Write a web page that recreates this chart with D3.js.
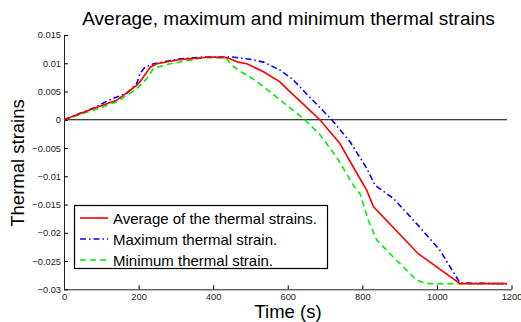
<!DOCTYPE html>
<html>
<head>
<meta charset="utf-8">
<script src="https://cdn.jsdelivr.net/npm/d3@7"></script>
<style>
  body { margin: 0; background: #fff; }
  svg { font-family: "Liberation Sans", Arial, Helvetica, sans-serif; }
</style>
</head>
<body>
<div id="chart"></div>
<script>
// data (time in s, strain)
const avgTime   = [0, 79, 141, 195, 208, 231, 249, 311, 392, 436, 445, 467, 490, 535, 579, 602, 633, 686, 740, 776, 812, 830, 950, 1062, 1188];
const avgStrain = [0, 0.0020, 0.00345, 0.0061, 0.0071, 0.0093, 0.0099, 0.01065, 0.0111, 0.0110, 0.0108, 0.0102, 0.0099, 0.0085, 0.0067, 0.0052, 0.0033, 0.0000, -0.0042, -0.0084, -0.0125, -0.0154, -0.0237, -0.0290, -0.0290];

const maxTime   = [0, 80, 123, 168, 195, 204, 217, 240, 311, 373, 450, 499, 535, 579, 611, 637, 718, 767, 812, 834, 883, 950, 1008, 1062, 1188];
const maxStrain = [0, 0.0021, 0.00355, 0.0047, 0.0064, 0.0082, 0.0093, 0.0099, 0.0108, 0.0111, 0.0111, 0.0107, 0.0102, 0.0088, 0.0073, 0.0055, 0.0000, -0.0039, -0.0086, -0.0116, -0.0139, -0.0187, -0.0231, -0.0289, -0.0290];

const minTime   = [0, 79, 141, 195, 222, 240, 284, 374, 418, 436, 450, 477, 503, 530, 646, 687, 731, 776, 794, 816, 839, 883, 946, 973, 1188];
const minStrain = [0, 0.0017, 0.00315, 0.0055, 0.0073, 0.0091, 0.0099, 0.0110, 0.0110, 0.0108, 0.0096, 0.0084, 0.0074, 0.0061, 0.0000, -0.0027, -0.0066, -0.0116, -0.0131, -0.0178, -0.0213, -0.0243, -0.0284, -0.0290, -0.0290];

const xTicks = [0, 200, 400, 600, 800, 1000, 1200];
const yTicks = [0.015, 0.01, 0.005, 0, -0.005, -0.01, -0.015, -0.02, -0.025, -0.03];
const yTickLabels = ["0.015", "0.01", "0.005", "0", "\u22120.005", "\u22120.01", "\u22120.015", "\u22120.02", "\u22120.025", "\u22120.03"];

const legendLabels = ["Average of the thermal strains.", "Maximum thermal strain.", "Minimum thermal strain."];

const W = 521, H = 322;
const marg = {top: 35, right: 9.5, bottom: 32.7, left: 64};
const wid = W - marg.left - marg.right,
  hei = H - marg.top - marg.bottom;

const svg = d3.select("#chart")
  .append("svg")
  .attr("width", W)
  .attr("height", H);

const g = svg.append("g")
  .attr("transform", `translate(${marg.left},${marg.top})`);

const xScale = d3.scaleLinear().domain([0, 1200]).range([0, wid]);
const yScale = d3.scaleLinear().domain([-0.03, 0.015]).range([hei, 0]);

// axes, matlab style: ticks pointing inwards, no box
g.append("g")
  .attr("transform", `translate(0,${hei})`)
  .call(d3.axisBottom(xScale).tickValues(xTicks).tickFormat(d3.format("d")).tickSizeInner(-4).tickSizeOuter(0).tickPadding(4))
  .call(ax => ax.select(".domain").attr("stroke", "#222"))
  .call(ax => ax.selectAll("text").style("font-size", "9.3px").attr("fill", "#222"));

g.append("g")
  .call(d3.axisLeft(yScale).tickValues(yTicks).tickFormat((d, i) => yTickLabels[i]).tickSizeInner(-4).tickSizeOuter(0).tickPadding(3))
  .call(ax => ax.select(".domain").attr("stroke", "#222"))
  .call(ax => ax.selectAll("text").style("font-size", "9.3px").attr("fill", "#222"));

// zero line
g.append("line")
  .attr("x1", xScale(0))
  .attr("x2", xScale(1188))
  .attr("y1", yScale(0))
  .attr("y2", yScale(0))
  .attr("stroke", "black")
  .attr("stroke-width", 1.2);

const series = [
  {t: minTime, v: minStrain, color: "#00ee00", dash: "6,4"},
  {t: maxTime, v: maxStrain, color: "#0000ff", dash: "6,3,1.5,3"},
  {t: avgTime, v: avgStrain, color: "#ff0000", dash: null}
];

const line = d3.line()
  .x(d => xScale(d[0]))
  .y(d => yScale(d[1]));

series.forEach(s => {
  g.append("path")
    .datum(d3.zip(s.t, s.v))
    .attr("fill", "none")
    .attr("stroke", s.color)
    .attr("stroke-width", 1.6)
    .attr("stroke-dasharray", s.dash)
    .attr("d", line);
});

// title and axis titles
svg.append("text")
  .attr("x", 288.5)
  .attr("y", 25)
  .attr("text-anchor", "middle")
  .style("font-size", "19px")
  .text("Average, maximum and minimum thermal strains");

svg.append("text")
  .attr("x", 288)
  .attr("y", 318)
  .attr("text-anchor", "middle")
  .style("font-size", "18.5px")
  .text("Time (s)");

svg.append("text")
  .attr("transform", "translate(24,163) rotate(-90)")
  .attr("text-anchor", "middle")
  .style("font-size", "18.5px")
  .text("Thermal strains");

// legend
const legend = svg.append("g");
legend.append("rect")
  .attr("x", 74.5)
  .attr("y", 205.5)
  .attr("width", 253)
  .attr("height", 63)
  .attr("fill", "white")
  .attr("stroke", "black")
  .attr("stroke-width", 1.2);

const legendStyles = [series[2], series[1], series[0]];
legendLabels.forEach((lab, i) => {
  const ly = 218 + i * 21;
  legend.append("line")
    .attr("x1", 80).attr("x2", 108)
    .attr("y1", ly).attr("y2", ly)
    .attr("stroke", legendStyles[i].color)
    .attr("stroke-width", 1.6)
    .attr("stroke-dasharray", legendStyles[i].dash);
  legend.append("text")
    .attr("x", 113)
    .attr("y", ly + 5.5)
    .style("font-size", "15px")
    .text(lab);
});
</script>
</body>
</html>
